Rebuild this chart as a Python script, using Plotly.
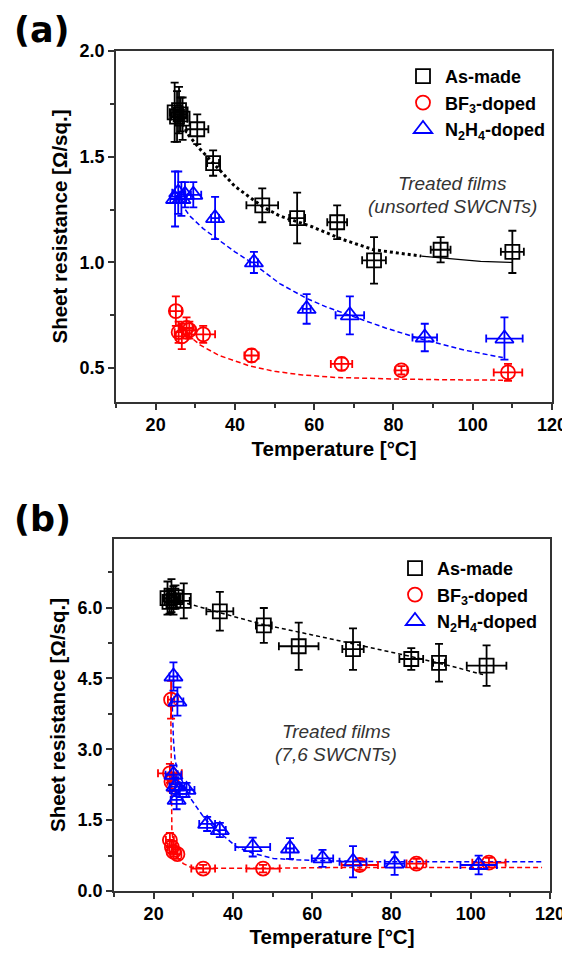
import plotly.graph_objects as go

# ---------------- Panel (a): unsorted SWCNTs ----------------
a_made_T = [24.8, 25.4, 25.9, 26.3, 26.8, 30.5, 34.5, 46.9, 55.7, 65.8, 75.1, 91.9, 110.0]
a_made_R = [1.71, 1.69, 1.72, 1.70, 1.68, 1.63, 1.47, 1.27, 1.21, 1.19, 1.01, 1.06, 1.05]
a_made_Rerr = [0.14, 0.12, 0.11, 0.08, 0.10, 0.07, 0.06, 0.08, 0.12, 0.08, 0.11, 0.06, 0.10]
a_made_Terr = [1.2, 1.5, 1.0, 1.5, 1.2, 2.8, 1.5, 4.0, 2.0, 2.5, 3.0, 2.5, 2.9]

a_bf3_T = [25.1, 25.8, 26.6, 27.8, 28.5, 32.0, 44.2, 66.9, 82.0, 108.9]
a_bf3_R = [0.77, 0.67, 0.65, 0.69, 0.68, 0.66, 0.56, 0.52, 0.49, 0.48]
a_bf3_Rerr = [0.07, 0.05, 0.06, 0.05, 0.04, 0.04, 0.03, 0.03, 0.02, 0.04]
a_bf3_Terr = [1.5, 1.0, 1.5, 1.5, 1.5, 3.0, 1.8, 2.7, 1.5, 3.6]

a_n2h4_T = [24.9, 25.7, 26.5, 27.4, 29.5, 35.0, 44.8, 58.1, 69.0, 87.9, 108.0]
a_n2h4_R = [1.30, 1.33, 1.30, 1.32, 1.32, 1.21, 1.00, 0.78, 0.75, 0.645, 0.64]
a_n2h4_Rerr = [0.13, 0.10, 0.08, 0.06, 0.06, 0.10, 0.05, 0.07, 0.09, 0.065, 0.10]
a_n2h4_Terr = [1.2, 1.5, 1.2, 1.5, 2.0, 1.0, 1.0, 1.0, 3.6, 3.1, 4.6]

# fit curves
a_fit_made_dot_T = [26, 28.4, 31, 34.5, 40, 46.9, 51.3, 59.3, 67, 75, 81, 87]
a_fit_made_dot_R = [1.68, 1.60, 1.54, 1.47, 1.36, 1.265, 1.22, 1.17, 1.11, 1.06, 1.045, 1.03]
a_fit_made_sol_T = [87, 95, 102, 110]
a_fit_made_sol_R = [1.03, 1.015, 1.005, 1.0]
a_fit_n2h4_T = [27.5, 28.6, 32, 36.2, 40, 44.6, 51.3, 58.1, 63, 69, 78, 87.5, 98, 107.6]
a_fit_n2h4_R = [1.25, 1.22, 1.16, 1.10, 1.05, 0.995, 0.90, 0.83, 0.79, 0.75, 0.69, 0.635, 0.585, 0.55]
a_fit_bf3_T = [28, 31.2, 36, 43.8, 50, 57, 65.6, 75, 82, 95, 108.9]
a_fit_bf3_R = [0.66, 0.61, 0.56, 0.51, 0.485, 0.468, 0.456, 0.45, 0.448, 0.445, 0.443]

# ---------------- Panel (b): (7,6) SWCNTs ----------------
b_made_T = [23.5, 24.0, 24.5, 25.0, 25.5, 27.6, 36.7, 47.8, 56.6, 70.3, 85.0, 92.0, 104.0]
b_made_R = [6.20, 6.12, 6.25, 6.15, 6.22, 6.14, 5.92, 5.62, 5.18, 5.12, 4.91, 4.83, 4.77]
b_made_Rerr = [0.35, 0.25, 0.35, 0.30, 0.25, 0.37, 0.41, 0.37, 0.50, 0.44, 0.23, 0.40, 0.43]
b_made_Terr = [1.0, 1.2, 1.0, 1.5, 1.0, 1.5, 3.4, 2.0, 5.0, 2.7, 3.0, 1.5, 5.0]

b_bf3_T = [24.4, 24.1, 24.5, 24.1, 24.6, 25.0, 26.0, 32.5, 47.6, 72.0, 86.3, 104.6]
b_bf3_R = [4.05, 2.49, 2.31, 1.08, 0.93, 0.83, 0.78, 0.475, 0.475, 0.55, 0.58, 0.60]
b_bf3_Rerr = [0.40, 0.20, 0.20, 0.15, 0.12, 0.10, 0.10, 0.08, 0.08, 0.10, 0.10, 0.10]
b_bf3_Terr = [0.8, 3.0, 1.0, 1.0, 1.0, 1.0, 1.0, 3.0, 4.2, 4.6, 2.5, 4.2]

b_n2h4_T = [25.0, 26.0, 25.0, 25.5, 26.6, 25.8, 28.3, 33.5, 36.7, 45.0, 54.4, 62.6, 70.3, 80.8, 102.0]
b_n2h4_R = [4.54, 4.01, 2.46, 2.21, 2.14, 1.93, 2.14, 1.42, 1.29, 0.93, 0.90, 0.69, 0.62, 0.58, 0.55]
b_n2h4_Rerr = [0.30, 0.30, 0.20, 0.20, 0.15, 0.20, 0.15, 0.15, 0.15, 0.20, 0.22, 0.18, 0.33, 0.24, 0.20]
b_n2h4_Terr = [1.0, 1.5, 2.0, 1.5, 2.5, 1.5, 2.0, 2.0, 1.5, 4.4, 1.0, 2.7, 3.4, 2.5, 4.6]

b_fit_made_T = [25, 29.2, 38, 47.6, 60, 71.2, 84.6, 95, 103.1]
b_fit_made_R = [6.15, 6.07, 5.86, 5.64, 5.42, 5.22, 4.97, 4.76, 4.58]
b_fit_n2h4_T = [24.5, 24.7, 25.0, 25.4, 26.2, 27.5, 29.0, 30.8, 33.0, 35.9, 41, 45, 50.2, 56, 62.8, 77, 95, 118]
b_fit_n2h4_R = [4.41, 3.69, 3.2, 2.77, 2.5, 2.28, 2.0, 1.78, 1.52, 1.29, 0.93, 0.80, 0.69, 0.66, 0.64, 0.62, 0.62, 0.62]
b_fit_bf3_T = [24.3, 24.35, 24.4, 24.6, 25.0, 25.6, 26.2, 27.5, 29.2, 33, 48, 70, 90, 118]
b_fit_bf3_R = [4.1, 3.0, 2.0, 1.3, 0.95, 0.80, 0.69, 0.58, 0.51, 0.48, 0.48, 0.50, 0.50, 0.50]

names = ["As-made", "BF<sub>3</sub>-doped", "N<sub>2</sub>H<sub>4</sub>-doped"]
colors = ["#000000", "#ff0000", "#0000ff"]
symbols = ["square-open", "circle-open", "triangle-up-open"]
msizes = [14, 14, 16]

FONT = "Liberation Sans, Arial, sans-serif"

# page body has an 8px margin: figure is drawn from (8, 8) in the window
OFF = 8
W, H = 570 - OFF, 956 - 2 * OFF


def px(x):
    return (x - OFF) / W


def py(y):
    return 1 - (y - OFF) / H


fig = go.Figure()


def add_line(T, R, color, dash, width, xa, ya):
    fig.add_trace(go.Scatter(x=T, y=R, mode="lines", line=dict(color=color, dash=dash, width=width),
                             showlegend=False, hoverinfo="skip", xaxis=xa, yaxis=ya))


def add_pts(T, R, Terr, Rerr, i, xa, ya, legend):
    fig.add_trace(go.Scatter(
        x=T, y=R, mode="markers", name=names[i],
        marker=dict(symbol=symbols[i], size=msizes[i], color=colors[i], line=dict(width=1.8, color=colors[i])),
        error_y=dict(type="data", array=Rerr, visible=True, color=colors[i], thickness=1.8, width=4),
        error_x=dict(type="data", array=Terr, visible=True, color=colors[i], thickness=1.8, width=4),
        xaxis=xa, yaxis=ya, legend=legend, legendgroup=legend + str(i)))


# panel (a)
add_line(a_fit_made_dot_T, a_fit_made_dot_R, "#000000", "dot", 3, "x", "y")
add_line(a_fit_made_sol_T, a_fit_made_sol_R, "#000000", "solid", 1.3, "x", "y")
add_line(a_fit_n2h4_T, a_fit_n2h4_R, "#0000ff", "5px,3px", 1.5, "x", "y")
add_line(a_fit_bf3_T, a_fit_bf3_R, "#ff0000", "5px,3px", 1.5, "x", "y")
add_pts(a_made_T, a_made_R, a_made_Terr, a_made_Rerr, 0, "x", "y", "legend")
add_pts(a_bf3_T, a_bf3_R, a_bf3_Terr, a_bf3_Rerr, 1, "x", "y", "legend")
add_pts(a_n2h4_T, a_n2h4_R, a_n2h4_Terr, a_n2h4_Rerr, 2, "x", "y", "legend")

# panel (b)
add_line(b_fit_made_T, b_fit_made_R, "#000000", "4px,3px", 1.5, "x2", "y2")
add_line(b_fit_n2h4_T, b_fit_n2h4_R, "#0000ff", "5px,3px", 1.5, "x2", "y2")
add_line(b_fit_bf3_T, b_fit_bf3_R, "#ff0000", "5px,3px", 1.5, "x2", "y2")
add_pts(b_made_T, b_made_R, b_made_Terr, b_made_Rerr, 0, "x2", "y2", "legend2")
add_pts(b_bf3_T, b_bf3_R, b_bf3_Terr, b_bf3_Rerr, 1, "x2", "y2", "legend2")
add_pts(b_n2h4_T, b_n2h4_R, b_n2h4_Terr, b_n2h4_Rerr, 2, "x2", "y2", "legend2")

tickfont = dict(family=FONT, size=18, color="#000", weight="bold")
titlefont = dict(family=FONT, size=20.5, color="#000", weight="bold")
axline = dict(showline=True, linecolor="#333", linewidth=1.5, mirror=True,
              ticks="outside", ticklen=6, tickwidth=1.5, tickcolor="#333",
              showgrid=False, zeroline=False, tickfont=tickfont, automargin=False)

xa_common = dict(range=[10, 120], dtick=20, tick0=0,
                 minor=dict(ticks="outside", ticklen=4, dtick=10, tick0=0, tickcolor="#333", tickwidth=1.5),
                 title=dict(text="Temperature [°C]", font=titlefont, standoff=7), **axline)

legfont = dict(family=FONT, size=18, color="#000", weight="bold")

fig.update_layout(
    width=W, height=H, margin=dict(l=0, r=0, t=0, b=0, autoexpand=False),
    paper_bgcolor="white", plot_bgcolor="white",
    font=dict(family=FONT),
    xaxis=dict(domain=[px(116), px(552)], anchor="y", **xa_common),
    yaxis=dict(domain=[py(402), py(51)], anchor="x", range=[0.34, 2.0], dtick=0.5, tick0=0,
               tickformat=".1f",
               minor=dict(ticks="outside", ticklen=4, dtick=0.25, tick0=0, tickcolor="#333", tickwidth=1.5),
               title=dict(text="Sheet resistance [Ω/sq.]", font=titlefont, standoff=6), **axline),
    xaxis2=dict(domain=[px(114), px(550)], anchor="y2", **xa_common),
    yaxis2=dict(domain=[py(891), py(539)], anchor="x2", range=[0, 7.45], dtick=1.5, tick0=0,
                tickformat=".1f",
                minor=dict(ticks="outside", ticklen=4, dtick=0.75, tick0=0, tickcolor="#333", tickwidth=1.5),
                title=dict(text="Sheet resistance [Ω/sq.]", font=titlefont, standoff=6), **axline),
    legend=dict(x=px(401), y=py(58), xanchor="left", yanchor="top", bgcolor="rgba(0,0,0,0)",
                font=legfont, tracegroupgap=0, traceorder="grouped", itemwidth=34),
    legend2=dict(x=px(393), y=py(550), xanchor="left", yanchor="top", bgcolor="rgba(0,0,0,0)",
                 font=legfont, tracegroupgap=0, traceorder="grouped", itemwidth=34),
    showlegend=True,
)

itfont = dict(family=FONT, size=19, color="#333", style="italic")
fig.add_annotation(text="Treated films", x=px(452), y=py(183), xref="paper", yref="paper",
                   xanchor="center", yanchor="middle", showarrow=False, font=itfont)
fig.add_annotation(text="(unsorted SWCNTs)", x=px(452), y=py(206), xref="paper", yref="paper",
                   xanchor="center", yanchor="middle", showarrow=False, font=itfont)
fig.add_annotation(text="Treated films", x=px(336), y=py(731), xref="paper", yref="paper",
                   xanchor="center", yanchor="middle", showarrow=False, font=itfont)
fig.add_annotation(text="(7,6 SWCNTs)", x=px(336), y=py(754), xref="paper", yref="paper",
                   xanchor="center", yanchor="middle", showarrow=False, font=itfont)
labfont = dict(family="DejaVu Sans", size=35, color="#000", weight="bold")
fig.add_annotation(text="(a)", x=px(42), y=py(30), xref="paper", yref="paper", showarrow=False,
                   xanchor="center", yanchor="middle", font=labfont)
fig.add_annotation(text="(b)", x=px(42), y=py(519), xref="paper", yref="paper", showarrow=False,
                   xanchor="center", yanchor="middle", font=labfont)

fig.write_html("out.html")
